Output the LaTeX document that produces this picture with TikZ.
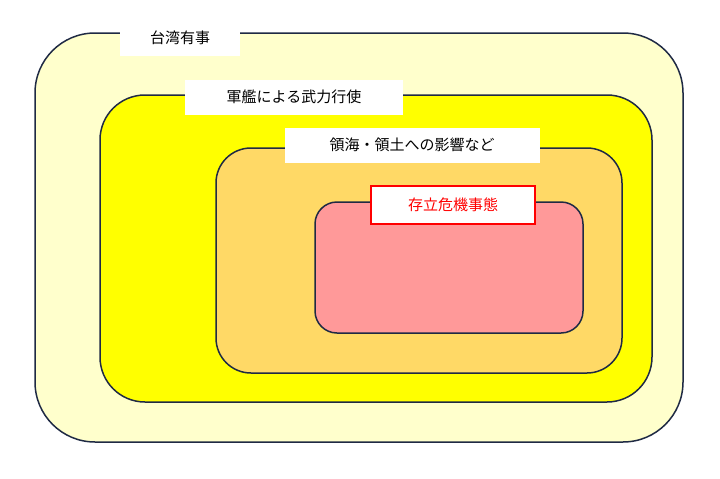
\documentclass[tikz,border=0pt]{standalone}
\usepackage{fontspec}
\setmainfont{Noto Sans CJK JP}
\definecolor{c1}{HTML}{FFFFCC}
\definecolor{c2}{HTML}{FFFF00}
\definecolor{c3}{HTML}{FFD966}
\definecolor{c4}{HTML}{FF9999}
\definecolor{ln}{HTML}{1F2A44}
\begin{document}
\begin{tikzpicture}[x=1pt,y=-1pt,
  area/.style={draw=ln,line width=1.5pt},
  lbl/.style={fill=white,font=\fontsize{15}{18}\selectfont,inner sep=0pt,minimum height=35pt}]
\useasboundingbox (0,0) rectangle (720,479);
\draw[area,fill=c1,rounded corners=60pt] (35,33) rectangle (683,442);
\node[lbl,minimum width=120pt] (l1) at (180,38) {台湾有事};
\draw[area,fill=c2,rounded corners=45pt] (100,95) rectangle (652,402);
\node[lbl,minimum width=218pt] (l2) at (294,97) {軍艦による武力行使};
\draw[area,fill=c3,rounded corners=35pt] (216,148) rectangle (622,373);
\node[lbl,minimum width=255pt] (l3) at (412,145) {領海・領土への影響など};
\draw[area,fill=c4,rounded corners=22pt] (315,202) rectangle (583,333);
\node[lbl,draw=red,line width=2pt,text=red,minimum width=164pt,minimum height=38pt] (l4) at (453,205) {存立危機事態};
\end{tikzpicture}
\end{document}
